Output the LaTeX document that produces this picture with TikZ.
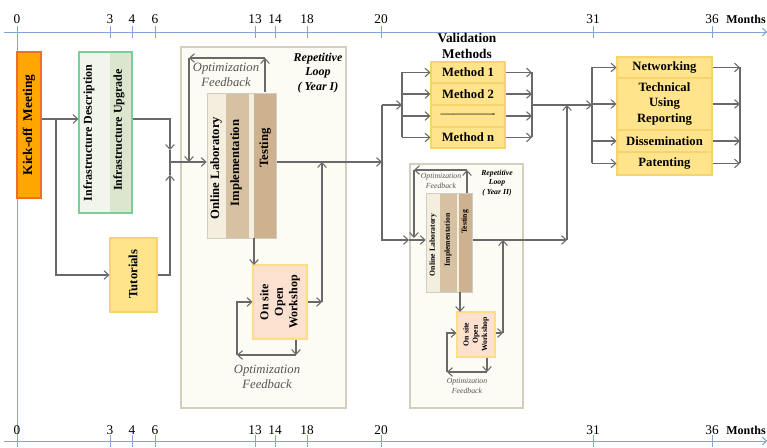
\documentclass[tikz,border=0pt]{standalone}
\usepackage{fontspec}
\setmainfont{Liberation Serif}
\usetikzlibrary{arrows.meta,fit}
\definecolor{axisblue}{RGB}{130,165,215}
\definecolor{conn}{RGB}{105,105,105}
\definecolor{kickfill}{RGB}{255,166,0}
\definecolor{kickdraw}{RGB}{240,110,40}
\definecolor{infdraw}{RGB}{125,205,155}
\definecolor{infA}{RGB}{242,245,236}
\definecolor{infB}{RGB}{220,229,205}
\definecolor{yelfill}{RGB}{255,228,140}
\definecolor{yeldraw}{RGB}{245,212,110}
\definecolor{loopfill}{RGB}{252,251,244}
\definecolor{loopdraw}{RGB}{210,207,190}
\definecolor{labA}{RGB}{244,238,222}
\definecolor{labB}{RGB}{215,193,163}
\definecolor{labC}{RGB}{206,177,142}
\definecolor{wsfill}{RGB}{252,224,208}
\definecolor{wsdraw}{RGB}{255,222,130}
\definecolor{fbgray}{RGB}{85,85,85}
\newcommand\myfs[1]{\fontsize{#1}{\dimexpr #1pt*6/5\relax}\selectfont}
\tikzset{
  box/.style={inner sep=0pt, line width=0.8pt},
  txt/.style={inner sep=0pt, font=\bfseries\myfs{9.5}, align=center},
  smalltxt/.style={inner sep=0pt, font=\bfseries\myfs{5.8}, align=center},
  fbtxt/.style={inner sep=0pt, font=\itshape\myfs{9.5}, text=fbgray, align=center},
  fbsmall/.style={inner sep=0pt, font=\itshape\myfs{5.8}, text=fbgray, align=center},
  ln/.style={draw=conn, line width=0.8pt},
  arr/.style={ln, -{Straight Barb[length=3.5pt,width=6.5pt]}},
  axis/.style={draw=axisblue, line width=0.7pt},
  ticklbl/.style={inner sep=0pt, font=\myfs{10}},
}
\begin{document}
\begin{tikzpicture}[x=0.75pt,y=-0.75pt]
\useasboundingbox (0,0) rectangle (767,448);
% ---------- axes ----------
\draw[axis, -{Straight Barb[length=3pt,width=6pt]}] (4,32) -- (767,32);
\draw[axis, -{Straight Barb[length=3pt,width=6pt]}] (4,441) -- (767,441);
\draw[axis] (17,32) -- (17,441);
\foreach \m/\xx in {0/17,3/110,4/132,6/155,13/255,14/275,18/307,20/381,31/593,36/712}{
  \draw[axis] (\xx,26) -- (\xx,38);
  \draw[axis] (\xx,435) -- (\xx,447);
  \node[ticklbl] (tt\m) at (\xx,19) {\m};
  \node[ticklbl] (tb\m) at (\xx,430) {\m};
}
\node[ticklbl, font=\bfseries\myfs{9}, anchor=east] (monthsT) at (766,19) {Months};
\node[ticklbl, font=\bfseries\myfs{9}, anchor=east] (monthsB) at (766,430) {Months};
% ---------- loop boxes (background) ----------
\node[box, draw=loopdraw, fill=loopfill, fit={(181,47)(346,408)}] (loop1) {};
\node[box, draw=loopdraw, fill=loopfill, fit={(410,164)(523,408)}] (loop2) {};
% ---------- kick-off ----------
\node[box, draw=kickdraw, fill=kickfill, fit={(17,52)(41,198)}] (kick) {};
\node[txt, rotate=90, font=\bfseries\myfs{10}] (kickT) at (kick.center) {Kick-off\ \ Meeting};
% ---------- infrastructure ----------
\node[box, fill=infA, fit={(79,52)(110,213)}] (infA) {};
\node[box, fill=infB, fit={(110,52)(132,213)}] (infB) {};
\node[box, draw=infdraw, fit={(79,52)(132,213)}] (infra) {};
\node[txt, rotate=90, font=\bfseries\myfs{9}] (infAT) at (89,133) {Infrastructure Description};
\node[txt, rotate=90, font=\bfseries\myfs{9}] (infBT) at (119,130) {Infrastructure Upgrade};
% ---------- tutorials ----------
\node[box, draw=yeldraw, fill=yelfill, fit={(110,238)(157,312)}] (tut) {};
\node[txt, rotate=90] (tutT) at (133,274) {Tutorials};
% ---------- kick-off connectors ----------
\coordinate (j1) at (56,119);
\draw[ln] (kick.east|-j1) -- (j1);
\draw[arr] (j1) -- (infra.west|-j1);
\draw[arr] (j1) |- (tut.west);
\coordinate (j2) at (170,162);
\coordinate (j2a) at (170,150);
\coordinate (j2b) at (170,175);
\draw[arr] (infra.east|-j1) -| (j2a);
\draw[ln] (j2a) -- (j2b);
\draw[arr] (tut.east) -| (j2b);
% ---------- lab I ----------
\node[box, fill=labA, fit={(207,93)(226,238)}] (lab1A) {};
\node[box, fill=labB, fit={(226,93)(249,238)}] (lab1B) {};
\node[box, fill=labA, fit={(249,93)(254,238)}] (lab1S) {};
\node[box, fill=labC, fit={(254,93)(276,238)}] (test1) {};
\node[box, draw=labA!70!gray, line width=0.4pt, fit={(207,93)(276,238)}] (lab1) {};
\node[txt, rotate=90] (lab1AT) at (216,168) {Online Laboratory};
\node[txt, rotate=90] (lab1BT) at (236,163) {Implementation};
\node[txt, rotate=90] (test1T) at (265,148) {Testing};
\draw[arr] (j2) -- (lab1.west|-j2);
% feedback top
\coordinate (f1) at (189,58);
\draw[arr] (test1.north) -- (test1.north|-f1);
\draw[arr] (test1.north|-f1) -- (f1);
\draw[arr] (f1) -- (f1|-j2);
\node[fbtxt] (fb1) at (226,75) {Optimization\\Feedback};
\node[inner sep=1pt, font=\bfseries\itshape\myfs{9}, align=center] (rep1) at (318,73) {Repetitive\\Loop\\( Year I)};
% ---------- workshop I ----------
\node[box, draw=wsdraw, fill=wsfill, fit={(253,265)(307,339)}] (ws1) {};
\node[txt, rotate=90, font=\bfseries\myfs{9}] (ws1T) at (ws1.center) {On site\\Open\\Workshop};
\draw[arr] (254,238) -- (254,265);
\coordinate (w1r) at (322,302);
\draw[arr] (ws1.east|-w1r) -- (w1r);
\draw[arr] (w1r) -- (w1r|-j2);
\coordinate (w1b) at (296,355);
\coordinate (w1c) at (237,355);
\draw[arr] (w1b|-ws1.south) -- (w1b);
\draw[arr] (w1b) -- (w1c);
\draw[arr] (w1c) |- (ws1.west|-w1r);
\node[fbtxt] (fb1b) at (267,377) {Optimization\\Feedback};
% ---------- validation ----------
\coordinate (v1) at (382,162);
\draw[arr] (test1.east|-j2) -- (v1);
\coordinate (v0) at (382,105);
\coordinate (v2) at (382,241);
\coordinate (vs) at (402,105);
\draw[ln] (v0) -- (v2);
\draw[arr] (v0) -- (vs);
\node[txt, font=\bfseries\myfs{10}] (valT) at (467,46) {Validation\\Methods};
\node[box, draw=yeldraw, fill=yelfill, fit={(431,62)(505,83)}] (m1) {};
\node[box, draw=yeldraw, fill=yelfill, fit={(431,83)(505,105)}] (m2) {};
\node[box, draw=yeldraw, fill=yelfill, fit={(431,105)(505,127)}] (m3) {};
\node[box, draw=yeldraw, fill=yelfill, fit={(431,127)(505,148)}] (mn) {};
\node[txt] (m1T) at (m1.center) {Method 1};
\node[txt] (m2T) at (m2.center) {Method 2};
\node[txt, font=\myfs{9.5}] (m3T) at (m3.center) {-------------};
\node[txt] (mnT) at (mn.center) {Method n};
\draw[ln] (vs|-m1) -- (vs|-mn);
\coordinate (vr) at (532,105);
\foreach \n in {m1,m2,m3,mn}{
  \draw[arr] (vs|-\n) -- (\n.west);
  \draw[arr] (\n.east) -- (vr|-\n);
}
\draw[ln] (vr|-m1) -- (vr|-mn);
% ---------- loop II ----------
\node[box, fill=labA, fit={(426,193)(440,292)}] (lab2A) {};
\node[box, fill=labB, fit={(440,193)(457,292)}] (lab2B) {};
\node[box, fill=labA, fit={(457,193)(459,292)}] (lab2S) {};
\node[box, fill=labC, fit={(459,193)(472,292)}] (test2) {};
\node[box, draw=labA!70!gray, line width=0.4pt, fit={(426,193)(472,292)}] (lab2) {};
\node[smalltxt, rotate=90] (lab2AT) at (433,245) {Online Laboratory};
\node[smalltxt, rotate=90] (lab2BT) at (448,240) {Implementation};
\node[smalltxt, rotate=90] (test2T) at (465,222) {Testing};
\coordinate (y2) at (426,240);
\coordinate (y2a) at (409,240);
\draw[arr] (v2|-y2) -- (y2a);
\draw[arr] (y2a) -- (lab2.west|-y2);
\coordinate (f2) at (414,170);
\draw[arr] (467,193) -- (467,170);
\draw[arr] (467,170) -- (f2);
\draw[arr] (f2) -- (414,238);
\node[fbsmall] (fb2) at (441,181) {Optimization\\Feedback};
\node[inner sep=0pt, font=\bfseries\itshape\myfs{5.8}, align=center] (rep2) at (497,183) {Repetitive\\Loop\\( Year II)};
\node[box, draw=wsdraw, fill=wsfill, fit={(457,312)(495,357)}] (ws2) {};
\node[smalltxt, rotate=90] (ws2T) at (ws2.center) {On site\\Open\\Workshop};
\draw[arr] (460,292) -- (460,312);
\coordinate (w2r) at (503,333);
\draw[arr] (ws2.east|-w2r) -- (w2r);
\draw[arr] (w2r) -- (w2r|-y2);
\coordinate (w2b) at (487,372);
\coordinate (w2c) at (447,372);
\draw[arr] (w2b|-ws2.south) -- (w2b);
\draw[arr] (w2b) -- (w2c);
\draw[arr] (w2c) |- (ws2.west|-w2r);
\node[fbsmall] (fb2b) at (467,386) {Optimization\\Feedback};
% ---------- to outputs ----------
\coordinate (o1) at (567,240);
\coordinate (o2) at (567,105);
\coordinate (os) at (592,105);
\draw[arr] (test2.east|-y2) -- (o1);
\draw[arr] (o1) -- (o2);
\draw[arr] (vr) -- (os);
\node[box, draw=yeldraw, fill=yelfill, fit={(617,57)(712,78)}] (net) {};
\node[box, draw=yeldraw, fill=yelfill, fit={(617,78)(712,130)}] (tech) {};
\node[box, draw=yeldraw, fill=yelfill, fit={(617,130)(712,152)}] (diss) {};
\node[box, draw=yeldraw, fill=yelfill, fit={(617,152)(712,175)}] (pat) {};
\node[txt] (netT) at (net.center) {Networking};
\node[txt] (techT) at (tech.center) {Technical\\Using\\Reporting};
\node[txt] (dissT) at (diss.center) {Dissemination};
\node[txt] (patT) at (pat.center) {Patenting};
\coordinate (or) at (740,105);
\draw[ln] (os|-net) -- (os|-pat);
\draw[ln] (or|-net) -- (or|-pat);
\foreach \n in {net,tech,diss,pat}{
  \draw[arr] (os|-\n) -- (\n.west);
  \draw[arr] (\n.east) -- (or|-\n);
}
\end{tikzpicture}
\end{document}
